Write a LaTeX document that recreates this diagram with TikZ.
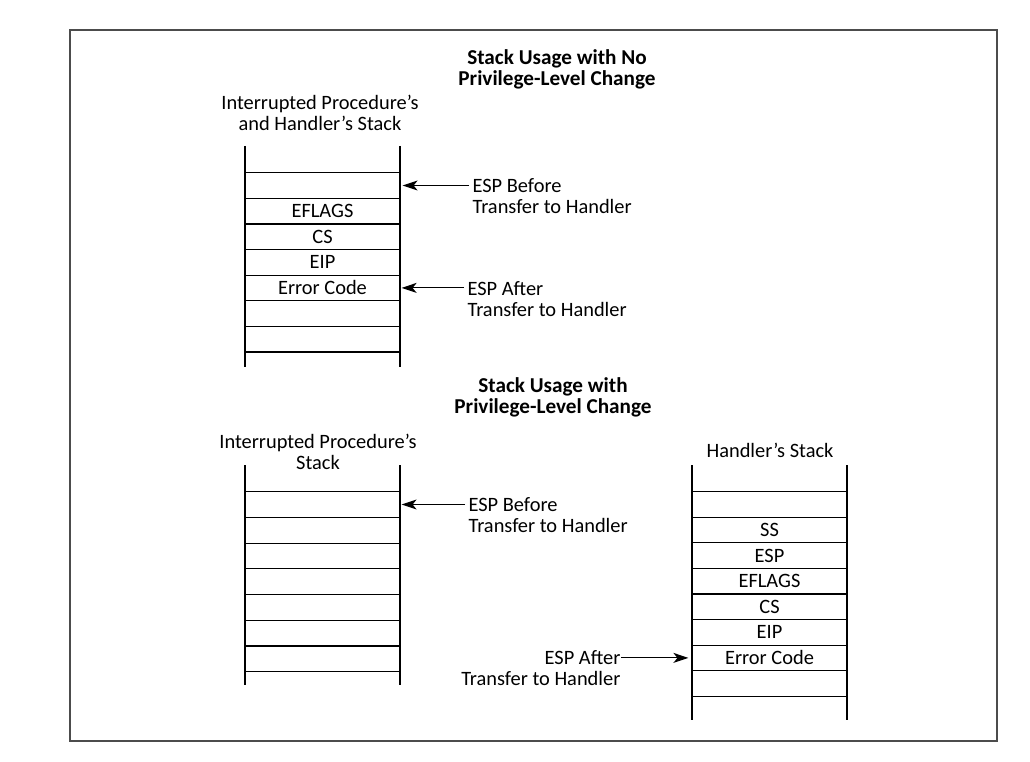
\documentclass[tikz,border=0pt]{standalone}
\usepackage{fontspec}
\setmainfont{Carlito}
\usetikzlibrary{arrows.meta}

\begin{document}
\begin{tikzpicture}[x=1pt, y=-1pt, line width=1.2pt,
                    every node/.style={inner sep=0pt,
                            font=\fontsize{20.4}{20.8}\selectfont},
                    slot/.style={minimum width=155pt, minimum height=25.6pt},
                    head/.style={align=center,
                            font=\bfseries\fontsize{21.2}{20.8}\selectfont},
                    espnote/.style={align=left, anchor=north west, inner xsep=3pt},
                    ptr/.style={-{Stealth[length=15pt,width=10pt,inset=4pt]}, line width=1.1pt}]
    \useasboundingbox (0,0) rectangle (1030,762);
    \draw[line width=2pt, black!70] (70,30) rectangle (997,741);

    % titles
    \node[head] (T1) at (557,69) {Stack Usage with No\\Privilege-Level Change};
    \node[head] (T2) at (553,397.5) {Stack Usage with\\Privilege-Level Change};
    \node[align=center] (S1) at (320,113) {Interrupted Procedure’s\\and Handler’s Stack};
    \node[align=center] (S2) at (318,451.5) {Interrupted Procedure’s\\Stack};
    \node (S3) at (770,450) {Handler’s Stack};

    % no privilege-level change
    \foreach \x in {245,400} {
            \draw (\x,146) -- (\x,367);
        }
    \foreach \k in {0,...,7} {
            \draw (245,{172.7+25.6*\k}) -- (400,{172.7+25.6*\k});
        }
    \foreach \k/\t in {0/,1/EFLAGS,2/CS,3/EIP,4/Error Code,5/,6/} {
            \node[slot] (A\k) at (322.5,{185.5+25.6*\k}) {\t};
        }
    \node[espnote] (A0n) at (469,178) {ESP Before\\Transfer to Handler};
    \node[espnote] (A4n) at (464,281) {ESP After\\Transfer to Handler};
    \draw[ptr, shorten >=2pt] (A0n.west |- A0) -- (A0.east);
    \draw[ptr, shorten >=1pt] (A4n.west |- A4) -- (A4.east);

    % privilege-level change, interrupted procedure
    \foreach \x in {245,400} {
            \draw (\x,465) -- (\x,685);
        }
    \foreach \k in {0,...,7} {
            \draw (245,{491.7+25.7*\k}) -- (400,{491.7+25.7*\k});
        }
    \node[slot] (B0) at (322.5,504.5) {};
    \node[espnote] (B0n) at (465,497) {ESP Before\\Transfer to Handler};
    \draw[ptr, shorten >=1pt] (B0n.west |- B0) -- (B0.east);

    % privilege-level change, handler
    \foreach \x in {692,847} {
            \draw (\x,465) -- (\x,720);
        }
    \foreach \k in {0,...,8} {
            \draw (692,{491.5+25.6*\k}) -- (847,{491.5+25.6*\k});
        }
    \foreach \k/\t in {0/,1/SS,2/ESP,3/EFLAGS,4/CS,5/EIP,6/Error Code,7/} {
            \node[slot] (H\k) at (769.5,{504.3+25.6*\k}) {\t};
        }
    \node[align=right, anchor=north east] (H6n) at (621,650) {ESP After\\Transfer to Handler};
    \draw[ptr, shorten >=3pt] (H6n.east |- H6) -- (H6.west);
\end{tikzpicture}
\end{document}
